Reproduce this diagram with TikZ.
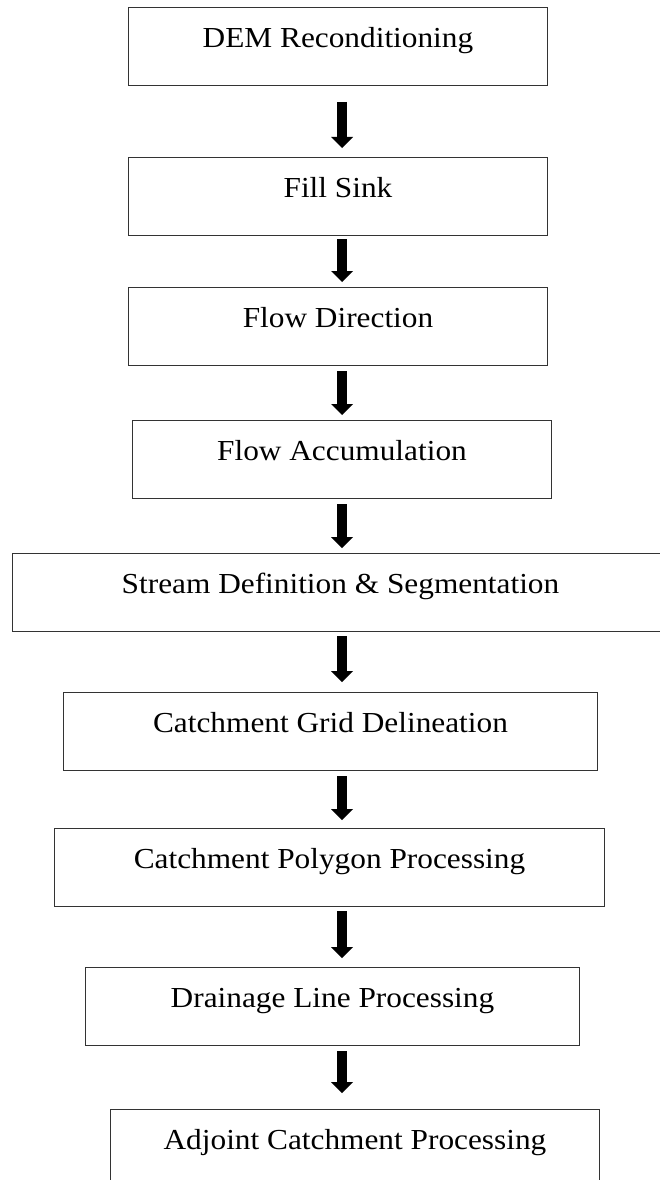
\documentclass[tikz,border=0pt]{standalone}
\usepackage{fontspec}
\setmainfont{Liberation Serif}[FakeStretch=1.08]
\usetikzlibrary{arrows.meta}
\begin{document}
\begin{tikzpicture}[x=1pt, y=-1pt,
		stepbox/.style={draw=black!80, line width=1pt, anchor=north west, inner xsep=0pt, inner ysep=0pt,
			text height=40pt, text depth=38pt, font=\fontsize{29}{34}\selectfont},
		flow/.style={line width=10pt, -{Triangle[width=22pt, length=11pt, line width=0pt]},
			shorten <=5pt, shorten >=5pt}]
		\clip (0,0) rectangle (660,1180);
		\coordinate (spine) at (342,0);
		% process steps
		\node[stepbox, minimum width=419pt] (dem) at (128,7) {DEM Reconditioning};
		\node[stepbox, minimum width=419pt] (fill) at (128,157) {Fill Sink};
		\node[stepbox, minimum width=419pt] (fdir) at (128,287) {Flow Direction};
		\node[stepbox, minimum width=419pt] (facc) at (132,420) {Flow Accumulation};
		\node[stepbox, minimum width=656pt] (stream) at (12,553) {Stream Definition \& Segmentation};
		\node[stepbox, minimum width=534pt] (cgrid) at (63,692) {Catchment Grid Delineation};
		\node[stepbox, minimum width=550pt] (cpoly) at (54,828) {Catchment Polygon Processing};
		\node[stepbox, minimum width=494pt] (dline) at (85,967) {Drainage Line Processing};
		\node[stepbox, minimum width=489pt] (adj) at (110,1109) {Adjoint Catchment Processing};
		% arrows
		\draw[flow, shorten <=16pt, shorten >=9pt] (dem.south -| spine) -- (fill.north -| spine);
		\draw[flow, shorten <=3pt] (fill.south -| spine) -- (fdir.north -| spine);
		\draw[flow] (fdir.south -| spine) -- (facc.north -| spine);
		\draw[flow] (facc.south -| spine) -- (stream.north -| spine);
		\draw[flow, shorten <=4pt, shorten >=10pt] (stream.south -| spine) -- (cgrid.north -| spine);
		\draw[flow, shorten >=8pt] (cgrid.south -| spine) -- (cpoly.north -| spine);
		\draw[flow, shorten <=4pt, shorten >=9pt] (cpoly.south -| spine) -- (dline.north -| spine);
		\draw[flow, shorten >=16pt] (dline.south -| spine) -- (adj.north -| spine);
\end{tikzpicture}
\end{document}
